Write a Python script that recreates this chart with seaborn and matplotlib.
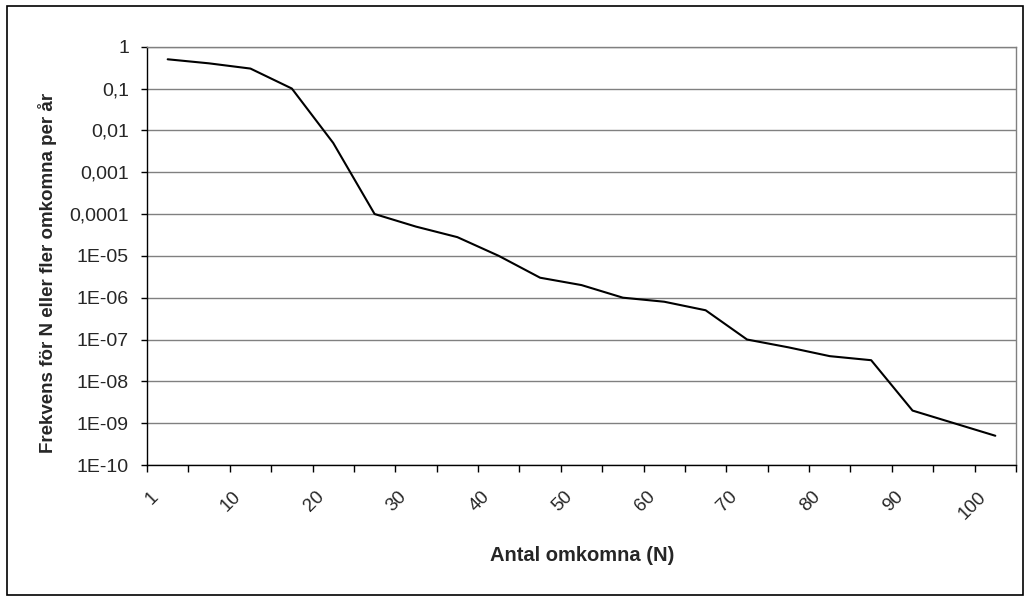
import numpy as np
import pandas as pd
import matplotlib
matplotlib.use("Agg")
import matplotlib.pyplot as plt
from matplotlib.patches import Rectangle
from matplotlib.transforms import ScaledTranslation
import seaborn as sns

# Data
categories = ['1', '5', '10', '15', '20', '25', '30', '35', '40', '45', '50',
              '55', '60', '65', '70', '75', '80', '85', '90', '95', '100']
frequency = [0.5, 0.4, 0.3, 0.1, 0.005, 1e-4, 5e-5, 2.8e-5, 1e-5, 3e-6, 2e-6,
             1e-6, 8e-7, 5e-7, 1e-7, 6.5e-8, 4e-8, 3.2e-8, 2e-9, 1e-9, 5e-10]
y_ticks = [1, 1e-1, 1e-2, 1e-3, 1e-4, 1e-5, 1e-6, 1e-7, 1e-8, 1e-9, 1e-10]
y_tick_labels = ['1', '0,1', '0,01', '0,001', '0,0001', '1E-05', '1E-06',
                 '1E-07', '1E-08', '1E-09', '1E-10']
x_label_cats = categories[::2]

sns.set_style("white")
plt.rcParams['font.family'] = ['Liberation Sans', 'DejaVu Sans']

df = pd.DataFrame({'pos': np.arange(len(categories)), 'freq': frequency})

fig = plt.figure(figsize=(10.30, 6.01), dpi=100)
ax = fig.add_axes([147 / 1030, 1 - 465 / 601, (1016 - 147) / 1030, (465 - 46.7) / 601])

sns.lineplot(data=df, x='pos', y='freq', color='black', linewidth=1.5, ax=ax)

ax.set_yscale('log')
ax.set_ylim(1e-10, 1)
ax.set_xlim(-0.5, len(categories) - 0.5)

# y axis
ax.set_yticks(y_ticks)
ax.set_yticklabels(y_tick_labels)
ax.yaxis.set_minor_locator(matplotlib.ticker.NullLocator())
ax.tick_params(axis='y', which='major', length=4, width=1, color='black',
               labelsize=14, pad=9, direction='out', left=True)
ax.grid(axis='y', color='#808080', linewidth=1)
ax.set_axisbelow(True)

# x axis: labels at category centres, tick marks at category borders
ax.set_xticks(np.arange(0, len(categories), 2))
ax.set_xticklabels(x_label_cats, rotation=45, ha='right', va='center',
                   rotation_mode='anchor')
ax.set_xticks(np.arange(-0.5, len(categories), 1), minor=True)
ax.tick_params(axis='x', which='major', length=0, labelsize=13.5, pad=21)
ax.tick_params(axis='x', which='minor', length=5, width=1, color='black',
               direction='out', bottom=True)
shift = ScaledTranslation(-12 / 100, 0, fig.dpi_scale_trans)
for lbl in ax.get_xticklabels():
    lbl.set_transform(lbl.get_transform() + shift)

for side in ['top', 'right']:
    ax.spines[side].set_color('#808080')
    ax.spines[side].set_linewidth(1)
for side in ['left', 'bottom']:
    ax.spines[side].set_color('black')
    ax.spines[side].set_linewidth(1)

ax.set_xlabel('Antal omkomna (N)', fontsize=14.5, fontweight='bold')
ax.xaxis.label.set_va('center')
ax.xaxis.set_label_coords(0.501, -0.2175)
ax.set_ylabel('Frekvens för N eller fler omkomna per år', fontsize=13.5,
              fontweight='bold')
ax.yaxis.label.set_va('center')
ax.yaxis.set_label_coords(-0.114, 0.459)

# outer chart border
fig.patches.append(Rectangle((7 / 1030, 1 - 595 / 601), 1016 / 1030, 589 / 601,
                             transform=fig.transFigure, fill=False,
                             edgecolor='black', linewidth=1.2))

fig.savefig('out.png', dpi=100)
